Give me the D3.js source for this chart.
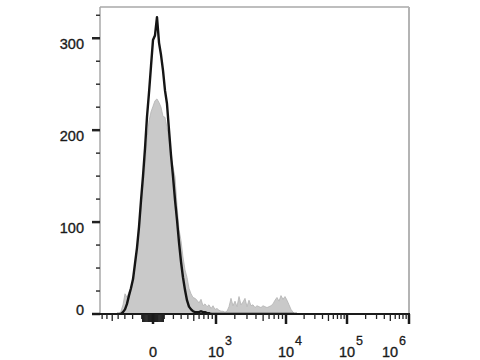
<!DOCTYPE html>
<html><head><meta charset="utf-8">
<script src="https://cdn.jsdelivr.net/npm/d3@7"></script>
<style>html,body{margin:0;padding:0;background:#fff;}svg{display:block;}</style>
</head><body>
<script>
// Bin centers (fluorescence intensity, data units)
const binValues = [-418,-386,-356,-326,-298,-271,-245,-220,-195,-172,-150,-128,-108,-88,-69,-51,-33,-16,
  0,16,33,51,69,88,108,128,150,172,195,220,245,271,298,326,356,386,418,452,486,522,560,598,639,681,725,771,818,868,919,972,
  1041,1126,1216,1311,1412,1519,1632,1751,1878,2013,2155,2306,2465,2634,2813,3002,3203,3415,3640,3879,4131,4398,4681,4981,5298,5634,5989,6366,6765,7188,7635,8109,8611,9142,9705,
  10394,11227,12125,13091,14133,15254];
// Sample (black line) counts
const sampleCounts = [0,0,0,2,5,11,20,28,38,55,72,95,123,150,180,214,241,270,
  298,303,323,295,282,265,243,229,200,173,150,124,102,78,57,40,26,15,8,5,3,2,2,2,3,2,2,1,1,0,0,0,
  0,0,0,0,0,0,0,0,0,0,0,0,0,0,0,0,0,0,0,0,0,0,0,0,0,0,0,0,0,0,0,0,0,0,0,
  0,0,0,0,0,0];
// Control (grey filled) counts
const controlCounts = [0,0,3,10,22,18,24,28,38,52,68,90,115,140,160,190,210,220,
  226,232,234,230,225,215,214,203,190,170,160,149,118,92,80,62,48,40,28,22,18,17,15,12,16,9,11,8,10,6,9,5,
  6,4,3,3,2,3,8,17,9,14,8,19,10,13,17,8,15,9,10,7,9,8,7,9,8,7,8,9,11,15,18,14,20,16,19,
  15,10,5,2,0,0];
const yTickValues = [0,100,200,300];
const xMajorTicks = [0,1e3,1e4,1e5,1e6];
const xMajorLabels = ["0","10|3","10|4","10|5","10|6"];

const W = 480, H = 360;
const L = 100, R = 409, T = 7, B = 314;
const svg = d3.select("body").append("svg").attr("width", W).attr("height", H);

const x = d3.scaleSymlog().constant(400)
  .domain([-1000, 0, 1e3, 1e4, 1e5, 1e6])
  .range([90, 153, 216, 286, 347, R]);
const y = d3.scaleLinear().domain([0, 334]).range([B, T]);

const data = binValues.map((v, i) => ({v, s: sampleCounts[i], c: controlCounts[i]}));

svg.append("clipPath").attr("id", "plotclip").append("rect")
  .attr("x", L).attr("y", T - 2).attr("width", R - L).attr("height", B - T + 2);
const g = svg.append("g").attr("clip-path", "url(#plotclip)");

// frame
svg.append("line").attr("x1", L).attr("x2", R).attr("y1", T).attr("y2", T)
  .attr("stroke", "#a8a8a8").attr("stroke-width", 1.5);
svg.append("line").attr("x1", R).attr("x2", R).attr("y1", T).attr("y2", B)
  .attr("stroke", "#b4b4b4").attr("stroke-width", 2);
svg.append("line").attr("x1", L).attr("x2", L).attr("y1", T).attr("y2", B)
  .attr("stroke", "#a8a8a8").attr("stroke-width", 1.5);

// control filled histogram
g.append("path").datum(data)
  .attr("d", d3.area().x(d => x(d.v)).y0(y(0)).y1(d => y(d.c)))
  .attr("fill", "#c9c9c9").attr("stroke", "#b3b3b3").attr("stroke-width", 0.8);

// sample line
g.append("path").datum(data)
  .attr("d", d3.line().x(d => x(d.v)).y(d => y(d.s)))
  .attr("fill", "none").attr("stroke", "#151515").attr("stroke-width", 2.4).attr("stroke-linejoin", "round");

// y axis ticks
const yMinor = d3.range(0, 334, 25).filter(v => v % 100 !== 0);
svg.selectAll(".ymin").data(yMinor).enter().append("line")
  .attr("x1", L - 4).attr("x2", L).attr("y1", d => y(d)).attr("y2", d => y(d))
  .attr("stroke", "#333").attr("stroke-width", 1.5);
svg.selectAll(".ymaj").data(yTickValues).enter().append("line")
  .attr("x1", L - 8).attr("x2", L).attr("y1", d => y(d)).attr("y2", d => y(d))
  .attr("stroke", "#222").attr("stroke-width", 2.5);
const font = "Liberation Sans, Arial, sans-serif";
svg.selectAll(".ylab").data(yTickValues).enter().append("text")
  .attr("x", 84).attr("y", d => Math.min(y(d) + 5.5, y(0) - 4.5))
  .attr("dy", "0.35em").attr("text-anchor", "end")
  .attr("font-family", font).attr("font-size", 14.5)
  .attr("fill", "#1a1a1a").attr("stroke", "#1a1a1a").attr("stroke-width", 0.35).text(d => d);

// x axis line
svg.append("line").attr("x1", L - 8).attr("x2", R + 1).attr("y1", B).attr("y2", B)
  .attr("stroke", "#1a1a1a").attr("stroke-width", 2);

// x ticks
const minor = [];
for (let n = 1; n <= 5; n++) {
  for (let k = 1; k <= 9; k++) {
    const v = k * Math.pow(10, n);
    if (!xMajorTicks.includes(v)) minor.push({v, len: n === 1 ? 8 : (k === 5 ? 7 : 5)});
    if (n <= 2) minor.push({v: -v, len: n === 1 ? 8 : (k === 5 ? 7 : 5)});
  }
}
const minorIn = minor.filter(d => x(d.v) >= L && x(d.v) <= R);
svg.selectAll(".xmin").data(minorIn).enter().append("line")
  .attr("x1", d => x(d.v)).attr("x2", d => x(d.v))
  .attr("y1", B).attr("y2", d => B + d.len)
  .attr("stroke", "#222").attr("stroke-width", d => Math.abs(d.v) < 100 ? 1.6 : 1.3);
svg.selectAll(".xmaj").data(xMajorTicks).enter().append("line")
  .attr("x1", d => x(d)).attr("x2", d => x(d))
  .attr("y1", B).attr("y2", B + 10)
  .attr("stroke", "#1a1a1a").attr("stroke-width", 2.5);

// x labels
xMajorTicks.forEach((v, i) => {
  const parts = xMajorLabels[i].split("|");
  const cx = Math.min(x(v), R - 19);
  svg.append("text").attr("x", cx).attr("y", 357).attr("text-anchor", "middle")
    .attr("font-family", font).attr("font-size", 14.5).attr("fill", "#1a1a1a")
    .attr("stroke", "#1a1a1a").attr("stroke-width", 0.35).text(parts[0]);
  if (parts[1]) {
    svg.append("text").attr("x", cx + 9).attr("y", 345).attr("text-anchor", "start")
      .attr("font-family", font).attr("font-size", 12.5).attr("fill", "#1a1a1a")
      .attr("stroke", "#1a1a1a").attr("stroke-width", 0.3).text(parts[1]);
  }
});
</script>
</body></html>
